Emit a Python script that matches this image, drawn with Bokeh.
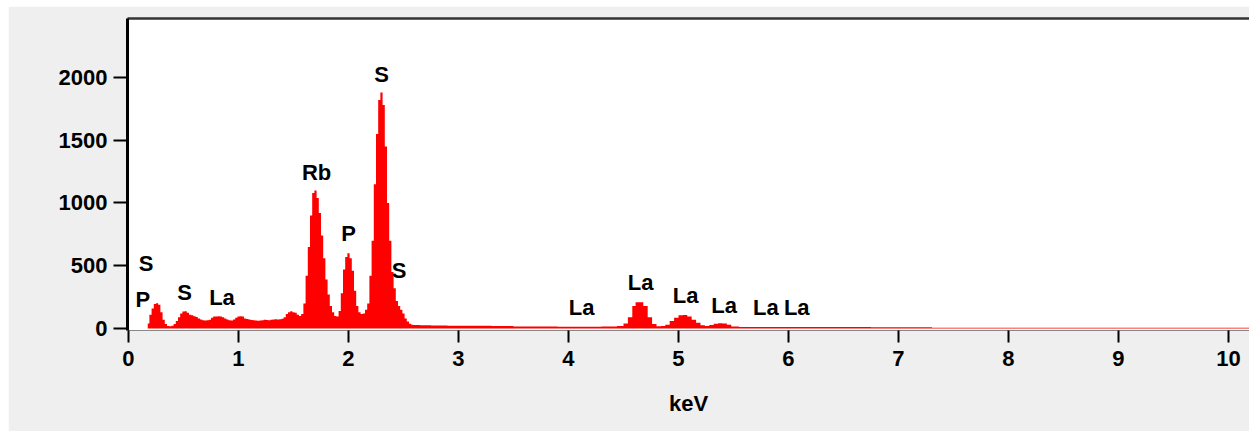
from bokeh.plotting import figure
from bokeh.models import Range1d, FixedTicker, LinearAxis, ColumnDataSource
from bokeh.core.properties import value
from bokeh.embed import file_html
from bokeh.resources import INLINE

# Spectrum (energy in keV, counts)
energy = [0.00, 0.17, 0.18, 0.20, 0.22, 0.24, 0.26, 0.28, 0.30, 0.32, 0.34, 0.36, 0.38, 0.40,
          0.42, 0.44, 0.46, 0.48, 0.50, 0.52, 0.54, 0.56, 0.58, 0.60, 0.62, 0.64, 0.66, 0.68,
          0.70, 0.72, 0.74, 0.76, 0.78, 0.80, 0.82, 0.84, 0.86, 0.88, 0.90, 0.92, 0.94, 0.96,
          0.98, 1.00, 1.02, 1.04, 1.06, 1.08, 1.10, 1.12, 1.14, 1.16, 1.18, 1.20, 1.22, 1.24,
          1.26, 1.28, 1.30, 1.32, 1.34, 1.36, 1.38, 1.40, 1.42, 1.44, 1.46, 1.48, 1.50, 1.52,
          1.54, 1.56, 1.58, 1.60, 1.62, 1.64, 1.66, 1.68, 1.70, 1.72, 1.74, 1.76, 1.78, 1.80,
          1.82, 1.84, 1.86, 1.88, 1.90, 1.92, 1.94, 1.96, 1.98, 2.00, 2.02, 2.04, 2.06, 2.08,
          2.10, 2.12, 2.14, 2.16, 2.18, 2.20, 2.22, 2.24, 2.26, 2.28, 2.30, 2.32, 2.34, 2.36,
          2.38, 2.40, 2.42, 2.44, 2.46, 2.48, 2.50, 2.52, 2.54, 2.56, 2.58, 2.60, 2.70, 2.80,
          3.00, 3.20, 3.40, 3.60, 3.80, 4.00, 4.20, 4.40, 4.48, 4.52, 4.56, 4.60, 4.62, 4.66,
          4.70, 4.74, 4.78, 4.82, 4.86, 4.90, 4.94, 4.98, 5.02, 5.06, 5.10, 5.14, 5.18, 5.22,
          5.26, 5.30, 5.34, 5.38, 5.42, 5.46, 5.50, 5.60, 6.00, 6.50, 7.00, 7.30, 7.31, 8.00,
          9.00, 10.20]
counts = [0, 0, 40, 110, 160, 195, 202, 190, 130, 70, 35, 20, 18, 22,
          35, 60, 90, 120, 135, 138, 125, 110, 105, 98, 92, 80, 72, 65,
          64, 66, 70, 85, 95, 96, 97, 95, 90, 80, 72, 65, 64, 72,
          85, 96, 98, 95, 80, 75, 72, 68, 66, 64, 62, 64, 66, 70,
          68, 66, 70, 72, 74, 72, 74, 78, 90, 115, 130, 138, 130, 125,
          110, 100, 115, 200, 420, 650, 900, 1080, 1100, 1040, 920, 740, 560, 390,
          270, 180, 130, 100, 95, 140, 280, 470, 570, 600, 560, 460, 300, 180,
          130, 115, 120, 150, 200, 420, 700, 1150, 1550, 1820, 1880, 1780, 1450, 1000,
          700, 450, 320, 220, 180, 150, 120, 80, 55, 38, 30, 28, 25, 24,
          22, 22, 20, 16, 15, 14, 14, 15, 20, 40, 90, 180, 210, 210,
          180, 90, 35, 18, 20, 30, 60, 85, 105, 108, 95, 70, 45, 25,
          20, 28, 38, 42, 40, 30, 15, 12, 12, 11, 10, 10, 6, 6,
          6, 6]

# Element labels
label_text = ["S", "P", "S", "La", "Rb", "P", "S", "S", "La", "La", "La", "La", "La", "La"]
label_x = [0.16, 0.13, 0.51, 0.85, 1.71, 2.00, 2.30, 2.46, 4.12, 4.655, 5.065, 5.415, 5.795, 6.075]
label_y = [514, 231, 287, 247, 1243, 757, 2024, 462, 167, 367, 263, 187, 167, 167]

x_ticks = [0, 1, 2, 3, 4, 5, 6, 7, 8, 9, 10]
y_ticks = [0, 500, 1000, 1500, 2000]

FONT = "Liberation Sans"
BG = "#efefef"

p = figure(width=1241, height=425, output_backend="svg", toolbar_location=None,
           x_range=Range1d(-0.009, 10.191), y_range=Range1d(-16, 2470),
           background_fill_color="white", border_fill_color=BG,
           min_border_left=119, min_border_right=0, min_border_top=12, min_border_bottom=101,
           outline_line_color=None, margin=(6, 0, 0, 8))
p.grid.visible = False

p.varea_step(x=energy, y1=[0] * len(energy), y2=counts, step_mode="center", fill_color="#ff0000")

src = ColumnDataSource(dict(x=label_x, y=label_y, t=label_text))
p.text(x="x", y="y", text="t", source=src, text_align="center", text_baseline="middle",
       text_font=value(FONT), text_font_style="bold", text_font_size="22px", text_color="black")

# axes
xa = p.xaxis[0]
xa.ticker = FixedTicker(ticks=x_ticks)
xa.axis_line_color = "#888888"
xa.axis_line_width = 1
xa.major_tick_line_color = "black"
xa.major_tick_line_width = 2
xa.major_tick_in = 0
xa.major_tick_out = 12
xa.minor_tick_line_color = None
xa.major_label_text_font = FONT
xa.major_label_text_font_style = "bold"
xa.major_label_text_font_size = "22px"
xa.major_label_text_color = "black"
xa.major_label_standoff = 8
xa.axis_label = "keV"
xa.axis_label_text_font = FONT
xa.axis_label_text_font_style = "bold"
xa.axis_label_text_font_size = "22px"
xa.axis_label_text_color = "black"
xa.axis_label_standoff = 22

ya = p.yaxis[0]
ya.ticker = FixedTicker(ticks=y_ticks)
ya.axis_line_color = "black"
ya.axis_line_width = 3
ya.major_tick_line_color = "black"
ya.major_tick_line_width = 2
ya.major_tick_in = 0
ya.major_tick_out = 14
ya.minor_tick_line_color = None
ya.major_label_text_font = FONT
ya.major_label_text_font_style = "bold"
ya.major_label_text_font_size = "22px"
ya.major_label_text_color = "black"
ya.major_label_standoff = 6

top = LinearAxis(ticker=FixedTicker(ticks=[]), axis_line_color="#333333", axis_line_width=2.5,
                 major_tick_line_color=None, minor_tick_line_color=None,
                 major_label_text_font_size="0px")
p.add_layout(top, "above")

open("out.html", "w").write(file_html(p, INLINE))
